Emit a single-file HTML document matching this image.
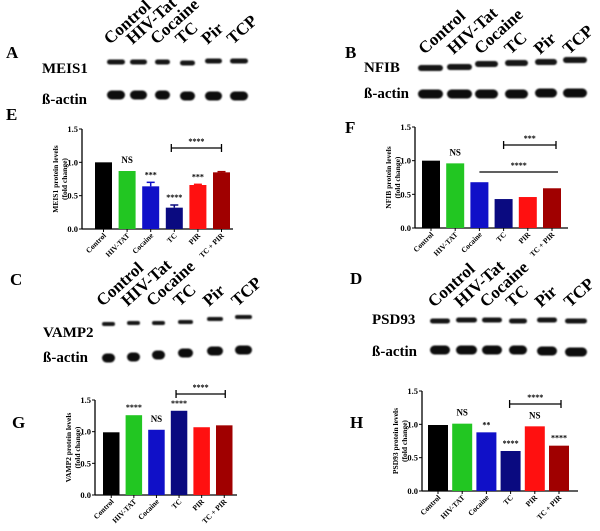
<!DOCTYPE html>
<html><head><meta charset="utf-8"><style>
html,body{margin:0;padding:0;background:#fff;}
svg{display:block;font-family:"Liberation Serif",serif;}
</style></head><body>
<svg id="fig" width="600" height="531" viewBox="0 0 600 531">
<defs><filter id="blur" x="-20%" y="-50%" width="140%" height="200%"><feGaussianBlur stdDeviation="0.7"/></filter></defs>
</svg>
<script>
const categories = ["Control","HIV-TAT","Cocaine","TC","PIR","TC + PIR"];
const laneNames = ["Control","HIV-Tat","Cocaine","TC","Pir","TCP"];
const colors = ["#000000","#22c622","#1010c8","#0a0a80","#ff1010","#a00000"];
const yTicks = [0, 0.5, 1.0, 1.5];
const yTickLabels = ["0.0","0.5","1.0","1.5"];
const valsE = [1.0, 0.87, 0.64, 0.32, 0.66, 0.85];
const errE = [0, 0, 0.06, 0.04, 0.01, 0.01];
const valsF = [1.0, 0.96, 0.68, 0.43, 0.46, 0.59];
const valsG = [0.99, 1.26, 1.03, 1.33, 1.07, 1.10];
const valsH = [0.99, 1.01, 0.88, 0.60, 0.97, 0.68];
const sigE = ["", "NS", "***", "****", "***", ""];
const sigF = ["", "NS", "", "", "", ""];
const sigG = ["", "****", "NS", "****", "", ""];
const sigH = ["", "NS", "**", "****", "NS", "****"];

const svg = document.getElementById('fig');
const NS = "http://www.w3.org/2000/svg";
function mk(tag, attrs, parent){const e=document.createElementNS(NS,tag);for(const k in attrs)e.setAttribute(k,attrs[k]);(parent||svg).appendChild(e);return e;}
function txt(s, attrs, parent){const e=mk('text',attrs,parent);e.textContent=s;return e;}

function panelLetter(ch,x,y){
  const t=txt(ch,{x:x,y:y,'font-size':17,'font-weight':'bold'});
  
  
}

function blot(id, protein, px, py, actinY, lanes, bandY, actY, labelY, bandH){
  const g=mk('g',{});
  
  
  const p=txt(protein,{x:px,y:py,'font-size':15,'font-weight':'bold'},g);
  
  
  const a=txt('ß-actin',{x:px,y:actinY,'font-size':15,'font-weight':'bold'},g);
  
  
  lanes.forEach((l,i)=>{
    const b=mk('rect',{x:l[0],y:bandY[i]-bandH/2,width:l[1]-l[0],height:bandH,rx:bandH/2,fill:'#151515',filter:'url(#blur)'},g);
    
    
    const c=mk('rect',{x:l[0],y:actY[i]-4.5,width:l[1]-l[0],height:9,rx:4.5,fill:'#111',filter:'url(#blur)'},g);
    
    
    const cx=(l[0]+l[1])/2-6;
    const t=txt(laneNames[i],{x:cx,y:labelY,'font-size':17,'font-weight':'bold',transform:`rotate(-42 ${cx} ${labelY})`},g);
    
    
  });
}

function chart(id, vals, errs, sigs, axX, y0, y15, barL, barW, step, axEnd, label, extras){
  const g=mk('g',{});
  
  
  const ys=v=>y0-(v/1.5)*(y0-y15);
  const xc=i=>barL+barW/2+i*step;
  mk('line',{x1:axX,y1:y15,x2:axX,y2:y0,stroke:'#000','stroke-width':1.3},g);
  mk('line',{x1:axX,y1:y0,x2:axEnd,y2:y0,stroke:'#000','stroke-width':1.3},g);
  yTicks.forEach((v,i)=>{
    mk('line',{x1:axX-3,y1:ys(v),x2:axX,y2:ys(v),stroke:'#000','stroke-width':1},g);
    const t=txt(yTickLabels[i],{x:axX-4,y:ys(v)+3,'font-size':8.5,'font-weight':'bold','text-anchor':'end'},g);
    
    
  });
  const lx=axX-22, ly=(y0+y15)/2;
  const yl=txt('',{x:lx,y:ly,'font-size':7.5,'font-weight':'bold','text-anchor':'middle',transform:`rotate(-90 ${lx} ${ly})`},g);
  
  
  const s1=mk('tspan',{x:lx,dy:-2},yl);s1.textContent=label;
  const s2=mk('tspan',{x:lx,dy:9},yl);s2.textContent='(fold change)';
  vals.forEach((v,i)=>{
    const b=mk('rect',{x:xc(i)-barW/2,y:ys(v),width:barW,height:y0-ys(v),fill:colors[i]},g);
    
    
    mk('line',{x1:xc(i),y1:y0,x2:xc(i),y2:y0+3,stroke:'#000'},g);
    const e=errs[i];
    if(e>0){
      mk('line',{x1:xc(i),y1:ys(v),x2:xc(i),y2:ys(v+e),stroke:colors[i],'stroke-width':1.5},g);
      mk('line',{x1:xc(i)-4,y1:ys(v+e),x2:xc(i)+4,y2:ys(v+e),stroke:colors[i],'stroke-width':1.5},g);
    }
    const tx=xc(i)+3, ty=y0+7;
    const t=txt(categories[i],{x:tx,y:ty,'font-size':7.5,'font-weight':'bold','text-anchor':'end',transform:`rotate(-45 ${tx} ${ty})`},g);
    
    
    if(sigs[i]){
      const s=txt(sigs[i],{x:xc(i),y:ys(v+e)-(sigs[i]==='NS'?8:5),'font-size':sigs[i]==='NS'?9:8,'font-weight':'bold','text-anchor':'middle'},g);
      
      
    }
  });
  extras.forEach(ex=>{
    const x1=xc(ex.from)+(ex.dx1||0), x2=xc(ex.to)+(ex.dx2||0), y=ex.y;
    mk('line',{x1:x1,y1:y,x2:x2,y2:y,stroke:'#000','stroke-width':1.3},g);
    if(ex.caps){mk('line',{x1:x1,y1:y-4,x2:x1,y2:y+4,stroke:'#000','stroke-width':1.3},g);mk('line',{x1:x2,y1:y-4,x2:x2,y2:y+4,stroke:'#000','stroke-width':1.3},g);}
    const s=txt(ex.text,{x:(x1+x2)/2,y:y-4,'font-size':8,'font-weight':'bold','text-anchor':'middle'},g);
    
    
  });
}

panelLetter('A',6,58);panelLetter('B',345,58);panelLetter('E',6,120);panelLetter('F',345,133);
panelLetter('C',10,285);panelLetter('D',350,284);panelLetter('G',12,428);panelLetter('H',350,428);

blot('meis1','MEIS1',42,73,104,[[107,125],[130,147],[155,170],[180,195],[205,222],[230,248]],[62,62,62,63,61,61],[95,95,95,96,96,96],45,5);
blot('nfib','NFIB',364,72,98,[[418,443],[447,472],[475,498],[505,528],[535,557],[563,587]],[68,67,64,63,62,60],[94,94,94,94,93,93],55,6);
blot('vamp2','VAMP2',43,337,362,[[102,115],[127,140],[152,165],[178,193],[207,223],[235,252]],[324,323,323,322,319,317],[358,357,355,353,351,350],307,4);
blot('psd93','PSD93',372,324,356,[[430,450],[456,477],[482,502],[509,527],[537,557],[565,587]],[321,320,320,321,320,321],[350,350,350,350,351,352],308,5);

chart('meis1',valsE,errE,sigE,82,229,129,95,17,23.6,233,'MEIS1 protein levels',[{from:3,to:5,y:148,text:'****',caps:true,dx1:-3,dx2:0}]);
chart('nfib',valsF,[0,0,0,0,0,0],sigF,415,228,127,422,18,24.2,568,'NFIB protein levels',[{from:3,to:5,y:145,text:'***',caps:true,dx1:0,dx2:4},{from:2,to:5,y:172,text:'****',caps:false,dx1:0,dx2:6}]);
chart('vamp2',valsG,[0,0,0,0,0,0],sigG,95,495,400,103,16.5,22.6,237,'VAMP2 protein levels',[{from:3,to:5,y:394,text:'****',caps:true,dx1:-3,dx2:1}]);
chart('psd93',valsH,[0,0,0,0,0,0],sigH,422,491,391,428,20,24.2,578,'PSD93 protein levels',[{from:3,to:5,y:404,text:'****',caps:true,dx1:-1,dx2:2}]);
</script>
</body></html>
